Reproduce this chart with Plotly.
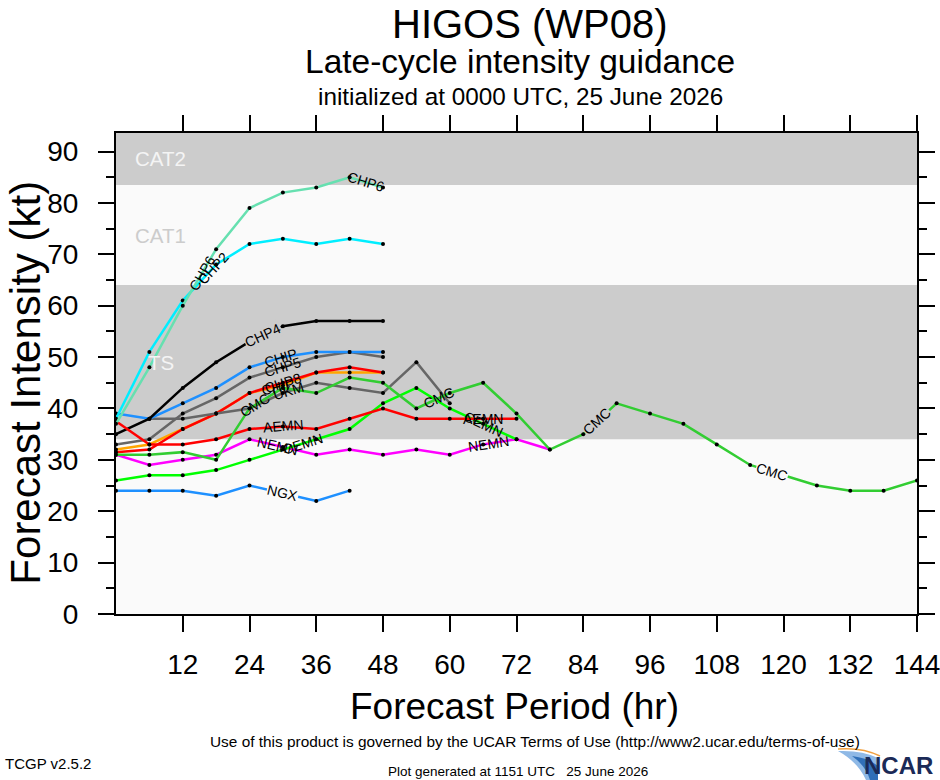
import math
import numpy as np
import plotly.graph_objects as go

# forecast hours (every 6 h)
hours = list(range(0, 145, 6))

# intensity guidance (kt), one list per aid, starting at hour 0 unless noted
chp6 = [37, 48, 60, 71, 79, 82, 83, 85, 83]
chp2 = [38, 51, 61, 68, 72, 73, 72, 73, 72]
chp4 = [35, 38, 44, 49, 53, 56, 57, 57, 57]
chip_blue = [39, 38, 41, 44, 48, 50, 51, 51, 51]
chp5 = [33, 34, 39, 42, 46, 48, 50, 51, 50]
ukm = [38, 38, 39, 40, 43, 45, 44, 43, 49, 41]          # starts at hour 6
chip_orange = [32, 33, 36, 39, 43, 44.5, 47, 47, 47]
chp8 = [31.5, 32, 36, 39, 43, 45, 47, 48, 47]
aemn = [37.5, 33, 33, 34, 36, 36.5, 36, 38, 40, 38, 38, 38, 38]
cmc = [31, 31, 31.5, 30, 40, 44, 43, 46, 45, 40, 43, 45, 39, 32, 35, 41,
       39, 37, 33, 29, 27, 25, 24, 24, 26]
cemn = [26, 27, 27, 28, 30, 32, 34, 36, 41, 44, 40, 37, 34]
nemn = [31, 29, 30, 31, 34, 32.5, 31, 32, 31, 32, 31, 33, 34, 32]
ngx = [24, 24, 24, 23, 25, 23.5, 22, 24]

# intensity category thresholds (kt)
ts_min, cat1_min, cat2_min = 34, 64, 83.5

x_max, y_max = 144, 93.6
x_ticks = list(range(12, 145, 12))
y_ticks = list(range(0, 91, 10))

# (label, values, first hour, colour, hours where the label sits)
aids = [
    ("CHIP", chip_orange, 0, "#ffa500", [29]),
    ("CHP8", chp8, 0, "#ff0000", [30]),
    ("UKM", ukm, 6, "#666666", [31]),
    ("CHP5", chp5, 0, "#666666", [30]),
    ("CHIP", chip_blue, 0, "#1e90ff", [29.5]),
    ("CHP4", chp4, 0, "#000000", [26.5]),
    ("NGX", ngx, 0, "#1e90ff", [30]),
    ("NEMN", nemn, 0, "#ff00ff", [29, 67]),
    ("CEMN", cemn, 0, "#00ff00", [33.5, 66]),
    ("AEMN", aemn, 0, "#ff0000", [30, 66]),
    ("CMC", cmc, 0, "#32cd32", [25, 58, 86.5, 118]),
    ("CHP2", chp2, 0, "#00eeff", [17.5]),
    ("CHP6", chp6, 0, "#66e0b0", [15.5, 45]),
]
# labels that sit clear of other lines: the line is broken under the text
knockout = {("CHP4", 26.5), ("NGX", 30), ("CMC", 86.5), ("CMC", 118)}

fig = go.Figure()

# plot area size in px, used to tilt the line labels
plot_w, plot_h = 801, 481
px_h = plot_w / x_max
px_kt = plot_h / y_max


def band_colour(v):
    return "#cccccc" if (ts_min <= v < cat1_min or v >= cat2_min) else "#fafafa"


annotations = []
for name, vals, start, color, label_hours in aids:
    hrs = hours[start // 6: start // 6 + len(vals)]
    fig.add_trace(go.Scatter(
        x=hrs, y=vals, mode="lines+markers", name=name,
        line=dict(color=color, width=2.5),
        marker=dict(color="black", size=4),
        showlegend=False, hoverinfo="x+y+name"))
    for lh in label_hours:
        i = max(0, min(np.searchsorted(hrs, lh) - 1, len(hrs) - 2))
        dv = vals[i + 1] - vals[i]
        dh = hrs[i + 1] - hrs[i]
        ang = -math.degrees(math.atan2(dv * px_kt, dh * px_h))
        yv = float(np.interp(lh, hrs, vals))
        ann = dict(x=lh, y=yv, xref="x", yref="y", text=name,
                   showarrow=False, textangle=ang, borderpad=0,
                   font=dict(size=14, color="black", family="Liberation Sans"))
        if (name, lh) in knockout:
            ann["bgcolor"] = band_colour(yv)
        annotations.append(ann)

# category bands
for lo, hi in [(ts_min, cat1_min), (cat2_min, y_max + 5)]:
    fig.add_shape(type="rect", xref="x", yref="y", x0=0, x1=x_max,
                  y0=lo, y1=hi, fillcolor="#cccccc", line_width=0,
                  layer="below")

band_font = dict(size=20.5, family="Liberation Sans")
annotations += [
    dict(x=8, y=(cat2_min + y_max) / 2, text="CAT2",
         font=dict(color="#f4f4f4", **band_font)),
    dict(x=8, y=(cat1_min + cat2_min) / 2, text="CAT1",
         font=dict(color="#cccccc", **band_font)),
    dict(x=8, y=(ts_min + cat1_min) / 2, text="TS",
         font=dict(color="#f4f4f4", **band_font)),
]
for a in annotations[-3:]:
    a.update(xref="x", yref="y", showarrow=False)


def ptext(x, y, text, size, xanchor="center", yanchor="middle", angle=0, **kw):
    """Annotation placed in paper coordinates."""
    font = dict(size=size, color="black", family="Liberation Sans")
    font.update(kw)
    return dict(x=x, y=y, xref="paper", yref="paper", text=text,
                showarrow=False, xanchor=xanchor, yanchor=yanchor,
                textangle=angle, font=font)


annotations += [
    ptext(0.5165, 1.2765, "HIGOS (WP08)", 40, yanchor="top"),
    ptext(0.5045, 1.148, "Late-cycle intensity guidance", 33.5),
    ptext(0.5045, 1.075, "initialized at 0000 UTC, 25 June 2026", 24.3),
    ptext(-0.1448, 0.48, "Forecast Intensity (kt)", 42, xanchor="left",
          angle=-90),
    ptext(0.498, -0.193, "Forecast Period (hr)", 37),
    ptext(0.523, -0.266,
          "Use of this product is governed by the UCAR Terms of Use "
          "(http://www2.ucar.edu/terms-of-use)", 15.4),
    ptext(-0.141, -0.31, "TCGP v2.5.2", 15, xanchor="left"),
    ptext(0.502, -0.328, "Plot generated at 1151 UTC   25 June 2026", 13.5),
    ptext(1.022, -0.316, "<b>NCAR</b>", 24, xanchor="right",
          color="#1b2a57"),
]


def to_paper(px, py):
    return (px - 116) / plot_w, (614 - py) / plot_h


# NCAR swoosh: a light blue wedge with an orange rim
pts = [to_paper(*p) for p in [(838, 751), (862, 750), (878, 758),
                               (878, 780), (866, 780), (858, 762)]]
fig.add_shape(type="path", xref="paper", yref="paper",
              path="M {0[0]},{0[1]} Q {1[0]},{1[1]} {2[0]},{2[1]} "
                   "L {3[0]},{3[1]} L {4[0]},{4[1]} Q {5[0]},{5[1]} "
                   "{0[0]},{0[1]} Z".format(*pts),
              fillcolor="#8fb9e6", line_width=0)
pts2 = [to_paper(*p) for p in [(852, 756), (868, 758), (878, 766),
                                (878, 780), (870, 780), (866, 766)]]
fig.add_shape(type="path", xref="paper", yref="paper",
              path="M {0[0]},{0[1]} Q {1[0]},{1[1]} {2[0]},{2[1]} "
                   "L {3[0]},{3[1]} L {4[0]},{4[1]} Q {5[0]},{5[1]} "
                   "{0[0]},{0[1]} Z".format(*pts2),
              fillcolor="#2f6fb8", line_width=0)
arc = [to_paper(*p) for p in [(838, 749), (862, 747), (880, 756)]]
fig.add_shape(type="path", xref="paper", yref="paper",
              path="M {0[0]},{0[1]} Q {1[0]},{1[1]} {2[0]},{2[1]}".format(*arc),
              line=dict(color="#f0a040", width=1.5))

axis_common = dict(
    showgrid=False, zeroline=False, showline=True, linecolor="black",
    linewidth=2, mirror="ticks", ticks="outside", ticklen=16,
    tickwidth=1.5, tickcolor="black", automargin=False,
    ticklabeloverflow="allow",
    tickfont=dict(size=28, color="black", family="Liberation Sans"),
)

fig.update_layout(
    width=940, height=780,
    margin=dict(l=116, r=23, t=133, b=166),
    paper_bgcolor="white", plot_bgcolor="#fafafa",
    xaxis=dict(range=[0, x_max], tickvals=x_ticks, ticklabelstandoff=8,
               **axis_common),
    yaxis=dict(range=[0, y_max], tickvals=y_ticks, ticklabelstandoff=14,
               minor=dict(dtick=5, tick0=0, ticklen=8, tickwidth=1.5,
                          tickcolor="black", ticks="outside"),
               **axis_common),
    annotations=annotations,
)

# drop the page's default 8 px body margin so the figure sits at the corner
fig.write_html("out.html", config={"displayModeBar": False},
               post_script="document.body.style.margin='0';")
